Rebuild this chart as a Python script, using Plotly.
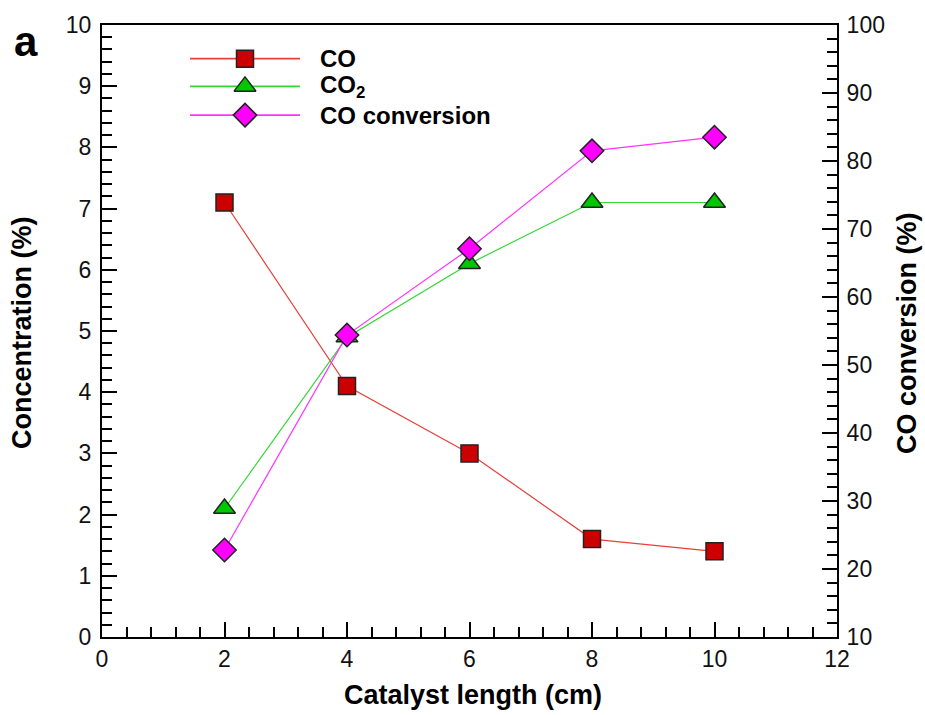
import plotly.graph_objects as go

length_cm = [2, 4, 6, 8, 10]
co_conc = [7.1, 4.1, 3.0, 1.6, 1.4]
co2_conc = [2.1, 4.9, 6.1, 7.1, 7.1]
co_conversion = [22.8, 54.4, 67.1, 81.5, 83.5]

series_names = ["CO", "CO<sub>2</sub>", "CO conversion"]

FONT = "Liberation Sans, Arial, Helvetica, sans-serif"
L, R, T, B = 102, 837, 19, 637
W, H = 925, 715


def px(xp):
    return (xp - L) / (R - L)


def py(yp):
    return (B - yp) / (B - T)


fig = go.Figure()

fig.add_trace(go.Scatter(
    x=length_cm, y=co_conc, mode="lines+markers", name="CO",
    line=dict(color="#e8403a", width=1.2),
    marker=dict(symbol="square", size=17, color="#cc0000", line=dict(color="#222", width=1.5)),
    showlegend=False, xaxis="x", yaxis="y"))
fig.add_trace(go.Scatter(
    x=length_cm, y=co2_conc, mode="lines+markers", name="CO2",
    line=dict(color="#33d633", width=1.2),
    marker=dict(symbol="triangle-up", size=19, color="#00c800", line=dict(color="#222", width=1.5)),
    showlegend=False, xaxis="x", yaxis="y"))
fig.add_trace(go.Scatter(
    x=length_cm, y=co_conversion, mode="lines+markers", name="CO conversion",
    line=dict(color="#ff33ff", width=1.2),
    marker=dict(symbol="diamond", size=18, color="#ff00ff", line=dict(color="#222", width=1.5)),
    showlegend=False, xaxis="x", yaxis="y2"))

# custom legend on a hidden pixel-space overlay
leg_y = [53, 81, 110]
styles = [
    ("#e8403a", "square", 17, "#cc0000"),
    ("#33d633", "triangle-up", 19, "#00c800"),
    ("#ff33ff", "diamond", 18, "#ff00ff"),
]
for (lc, sym, sz, fc), yy, nm in zip(styles, leg_y, series_names):
    fig.add_trace(go.Scatter(x=[190, 300], y=[yy, yy], mode="lines",
                             line=dict(color=lc, width=1.6), showlegend=False,
                             xaxis="x3", yaxis="y3", hoverinfo="skip"))
    fig.add_trace(go.Scatter(x=[245], y=[yy], mode="markers",
                             marker=dict(symbol=sym, size=sz, color=fc, line=dict(color="#222", width=1.5)),
                             showlegend=False, xaxis="x3", yaxis="y3", hoverinfo="skip"))
    fig.add_annotation(x=px(318), y=py(yy), xref="paper", yref="paper", text=nm, showarrow=False,
                       xanchor="left", yanchor="middle",
                       font=dict(family=FONT, size=24, color="black", weight="bold"))

tick_font = dict(family=FONT, size=23, color="#111")
title_font = dict(family=FONT, size=27, color="black", weight="bold")

common = dict(showline=True, linecolor="black", linewidth=2, ticks="inside",
              ticklen=15, tickwidth=1.8, tickcolor="black", showgrid=False,
              zeroline=False, tickfont=tick_font)

fig.update_layout(
    width=W, height=H,
    margin=dict(l=L, r=W - R, t=T, b=H - B),
    paper_bgcolor="white", plot_bgcolor="white",
    xaxis=dict(range=[0, 12], dtick=2, tick0=0, mirror=True,
               minor=dict(dtick=0.4, ticklen=10, tickwidth=1.8, tickcolor="black", ticks="inside"),
               **common),
    yaxis=dict(range=[0, 10], dtick=1, tick0=0, ticklabelstandoff=4,
               minor=dict(dtick=0.2, ticklen=10, tickwidth=1.8, tickcolor="black", ticks="inside"),
               **common),
    yaxis2=dict(range=[10, 100], dtick=10, tick0=10, overlaying="y", side="right",
                ticklabelstandoff=3,
                minor=dict(dtick=2, ticklen=10, tickwidth=1.8, tickcolor="black", ticks="inside"),
                **common),
    xaxis3=dict(range=[L, R], visible=False, overlaying="x", fixedrange=True),
    yaxis3=dict(range=[B, T], visible=False, overlaying="y", fixedrange=True),
)

# axis titles and panel label
fig.add_annotation(x=px(473), y=py(696), xref="paper", yref="paper", text="Catalyst length (cm)",
                   showarrow=False, xanchor="center", yanchor="middle", font=title_font)
fig.add_annotation(x=px(22), y=py(330), xref="paper", yref="paper", text="Concentration (%)",
                   showarrow=False, textangle=-90, xanchor="center", yanchor="middle", font=title_font)
fig.add_annotation(x=px(907), y=py(330), xref="paper", yref="paper", text="CO conversion (%)",
                   showarrow=False, textangle=-90, xanchor="center", yanchor="middle", font=title_font)
fig.add_annotation(x=px(26), y=py(36), xref="paper", yref="paper", text="a",
                   showarrow=False, xanchor="center", yanchor="middle",
                   font=dict(family=FONT, size=42, color="black", weight="bold"))

fig.write_html("out.html")
